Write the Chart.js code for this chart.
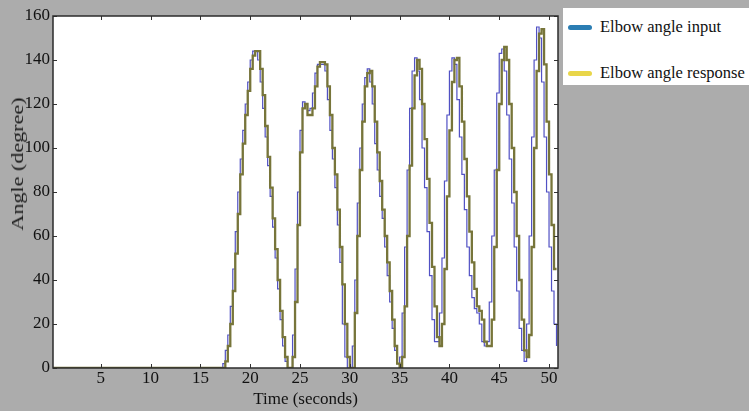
<!DOCTYPE html>
<html>
<head>
<meta charset="utf-8">
<script src="https://cdn.jsdelivr.net/npm/chart.js@4.4.1/dist/chart.umd.min.js"></script>
<style>
  html, body { margin: 0; padding: 0; background: #acacac; }
  #wrap { position: relative; width: 749px; height: 411px; overflow: hidden; }
  #plot { position: absolute; left: 0; top: 0; }
  #ytitle {
    position: absolute; left: 18px; top: 164px;
    transform: translate(-50%, -50%) rotate(-90deg) scaleX(1.3);
    font: 17px "Liberation Serif", serif; color: #1a1a1a; white-space: nowrap;
  }
  #legend {
    position: absolute; left: 563px; top: 8px; width: 186px; height: 77px;
    background: #fff; font: 16.5px "Liberation Serif", serif; color: #111;
  }
  .item { position: absolute; left: 5px; display: flex; align-items: center; height: 20px; }
  .sw { width: 24px; height: 5px; border-radius: 3px; margin-right: 8px; }
</style>
</head>
<body>
<div id="wrap">
  <canvas id="plot" width="749" height="411"></canvas>
  <div id="ytitle">Angle (degree)</div>
  <div id="legend"></div>
</div>
<script>
// ---- data ----
const xTickValues = [5, 10, 15, 20, 25, 30, 35, 40, 45, 50];
const yTickValues = [0, 20, 40, 60, 80, 100, 120, 140, 160];
const seriesNames = ["Elbow angle input", "Elbow angle response"];
const swatchColors = ["#2b7db3", "#e9d64a"];

// one row per second, 0.25 s apart
const timeSec = [
  0.2,
  17, 17.25, 17.5, 17.75,
  18, 18.25, 18.5, 18.75,
  19, 19.25, 19.5, 19.75,
  20, 20.25, 20.5, 20.75,
  21, 21.25, 21.5, 21.75,
  22, 22.25, 22.5, 22.75,
  23, 23.25, 23.5, 23.75,
  24, 24.25, 24.5, 24.75,
  25, 25.25, 25.5, 25.75,
  26, 26.25, 26.5, 26.75,
  27, 27.25, 27.5, 27.75,
  28, 28.25, 28.5, 28.75,
  29, 29.25, 29.5, 29.75,
  30, 30.25, 30.5, 30.75,
  31, 31.25, 31.5, 31.75,
  32, 32.25, 32.5, 32.75,
  33, 33.25, 33.5, 33.75,
  34, 34.25, 34.5, 34.75,
  35, 35.25, 35.5, 35.75,
  36, 36.25, 36.5, 36.75,
  37, 37.25, 37.5, 37.75,
  38, 38.25, 38.5, 38.75,
  39, 39.25, 39.5, 39.75,
  40, 40.25, 40.5, 40.75,
  41, 41.25, 41.5, 41.75,
  42, 42.25, 42.5, 42.75,
  43, 43.25, 43.5, 43.75,
  44, 44.25, 44.5, 44.75,
  45, 45.25, 45.5, 45.75,
  46, 46.25, 46.5, 46.75,
  47, 47.25, 47.5, 47.75,
  48, 48.25, 48.5, 48.75,
  49, 49.25, 49.5, 49.75,
  50, 50.25, 50.5, 50.75
];

const inputAngle = [
  0,
  0, 2, 8, 15,
  28, 45, 62, 80,
  95, 108, 120, 130,
  140, 144, 144, 140,
  130, 118, 105, 92,
  78, 64, 50, 36,
  22, 10, 3, 0,
  0, 15, 45, 80,
  108, 121, 120, 117,
  118, 125, 134, 138,
  138, 138, 135, 122,
  108, 95, 82, 65,
  48, 20, 5, 0,
  0, 10, 40, 75,
  100, 120, 132, 136,
  130, 120, 102, 90,
  78, 68, 55, 42,
  30, 18, 8, 2,
  5, 25, 55, 90,
  118, 135, 141, 135,
  122, 100, 82, 62,
  42, 22, 12, 12,
  25, 50, 85, 115,
  135, 141, 138, 122,
  105, 88, 72, 55,
  42, 32, 27, 25,
  20, 12, 10, 12,
  30, 60, 90, 125,
  143, 145, 135, 115,
  95, 75, 55, 35,
  18, 8, 3, 20,
  60, 105, 140, 155,
  150, 130, 105, 80,
  55, 35, 20, 10
];

const responseAngle = [
  0,
  0, 0, 3, 10,
  20, 35, 52, 70,
  88, 102, 115, 126,
  136, 142, 144, 144,
  136, 124, 110, 96,
  82, 68, 54, 40,
  26, 14, 5, 0,
  0, 5, 30, 65,
  98, 118, 120, 115,
  115, 118, 128, 137,
  139, 139, 138, 128,
  115, 100, 88, 72,
  55, 38, 20, 5,
  0, 0, 25, 60,
  90, 112, 128, 134,
  135, 128, 112, 98,
  85, 72, 60, 48,
  35, 22, 10, 2,
  0, 5, 28, 60,
  92, 118, 133, 140,
  136, 120, 104, 86,
  66, 46, 28, 14,
  10, 20, 45, 78,
  108, 130, 140, 141,
  128, 112, 95, 78,
  62, 48, 36, 28,
  26, 22, 12, 10,
  10, 22, 55, 90,
  120, 140, 146, 140,
  120, 100, 80, 60,
  40, 22, 8, 5,
  15, 55, 100, 135,
  152, 154, 138, 112,
  88, 65, 45, 45
];

// ---- legend (html) ----
const legendEl = document.getElementById("legend");
seriesNames.forEach((name, i) => {
  const row = document.createElement("div");
  row.className = "item";
  row.style.top = (i === 0 ? 9 : 55) + "px";
  row.innerHTML = `<span class="sw" style="background:${swatchColors[i]}"></span><span>${name}</span>`;
  legendEl.appendChild(row);
});

const toPoints = vals => vals.map((v, i) => ({ x: timeSec[i], y: v }));

// white plot area + box with inward ticks
const plotFrame = {
  id: "plotFrame",
  beforeDatasetsDraw(chart) {
    const { ctx, chartArea: a } = chart;
    ctx.save();
    ctx.fillStyle = "#ffffff";
    ctx.fillRect(a.left, a.top, a.right - a.left, a.bottom - a.top);
    ctx.restore();
  },
  afterDatasetsDraw(chart) {
    const { ctx, chartArea: a, scales } = chart;
    ctx.save();
    ctx.strokeStyle = "#333";
    ctx.lineWidth = 1;
    ctx.beginPath();
    xTickValues.forEach(v => {
      const px = Math.round(scales.x.getPixelForValue(v)) + 0.5;
      ctx.moveTo(px, a.bottom); ctx.lineTo(px, a.bottom - 4);
      ctx.moveTo(px, a.top); ctx.lineTo(px, a.top + 4);
    });
    yTickValues.forEach(v => {
      const py = Math.round(scales.y.getPixelForValue(v)) + 0.5;
      ctx.moveTo(a.left, py); ctx.lineTo(a.left + 4, py);
      ctx.moveTo(a.right, py); ctx.lineTo(a.right - 4, py);
    });
    ctx.stroke();
    ctx.lineWidth = 1.5;
    ctx.strokeStyle = "#2b2b2b";
    ctx.strokeRect(a.left, a.top, a.right - a.left, a.bottom - a.top);
    ctx.restore();
  }
};

Chart.defaults.font.family = '"Liberation Serif", serif';
Chart.defaults.font.size = 17;
Chart.defaults.color = "#111";

new Chart(document.getElementById("plot"), {
  type: "line",
  data: {
    datasets: [
      {
        label: seriesNames[1] + " outline",
        data: toPoints(responseAngle),
        stepped: true,
        borderColor: "#77753a",
        borderWidth: 2.3,
        pointRadius: 0
      },
      {
        label: seriesNames[1],
        data: toPoints(responseAngle),
        stepped: true,
        borderColor: "#ddd55a",
        borderWidth: 0.9,
        pointRadius: 0
      },
      {
        label: seriesNames[0],
        data: toPoints(inputAngle),
        stepped: true,
        borderColor: "#5151c4",
        borderWidth: 1.2,
        pointRadius: 0
      }
    ]
  },
  options: {
    responsive: false,
    animation: false,
    events: [],
    layout: { padding: { left: 0, right: 191, top: 16, bottom: 0 } },
    plugins: { legend: { display: false }, tooltip: { enabled: false } },
    scales: {
      x: {
        type: "linear",
        min: 0.2,
        max: 50.9,
        grid: { display: false, drawTicks: false, tickLength: 0 },
        border: { display: false },
        afterBuildTicks: s => { s.ticks = xTickValues.map(v => ({ value: v })); },
        afterFit: s => { s.height = 43; },
        ticks: { padding: 0, maxRotation: 0, autoSkip: false },
        title: {
          display: true,
          text: "Time (seconds)",
          font: { size: 17 },
          padding: { top: 0, bottom: 1 }
        }
      },
      y: {
        min: 0,
        max: 160,
        grid: { display: false, drawTicks: false, tickLength: 0 },
        border: { display: false },
        afterBuildTicks: s => { s.ticks = yTickValues.map(v => ({ value: v })); },
        afterFit: s => { s.width = 53; },
        ticks: { padding: 3, autoSkip: false }
      }
    }
  },
  plugins: [plotFrame]
});
</script>
</body>
</html>
